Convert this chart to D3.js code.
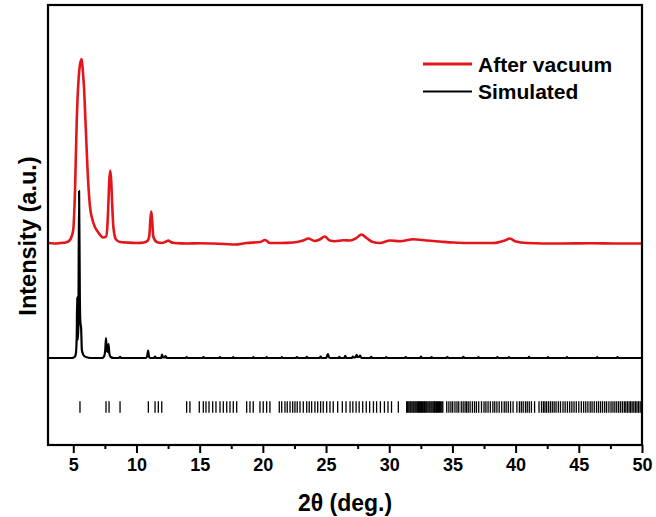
<!DOCTYPE html>
<html>
<head>
<meta charset="utf-8">
<script src="https://cdn.jsdelivr.net/npm/d3@7/dist/d3.min.js"></script>
<style>
  html, body { margin: 0; padding: 0; background: #fff; }
  svg { display: block; }
  text { font-family: "Liberation Sans", Arial, sans-serif; font-weight: bold; fill: #000; }
</style>
</head>
<body>
<svg id="chart" width="656" height="517"></svg>
<script>
// Measured pattern after vacuum: [2θ, intensity (a.u.)]
const afterVacuum = [
  [3.0,0.5],[3.5,0],[4.0,0.5],[4.4,1],[4.7,3],[4.87,7],[5.0,14],[5.14,54],[5.27,121],[5.4,160],
  [5.52,178],[5.66,184.5],[5.76,172],[5.85,156],[5.98,118],[6.14,71],[6.32,37],[6.58,21],[6.98,11],
  [7.37,6],[7.6,7],[7.7,18],[7.77,37],[7.85,63],[7.93,73],[8.0,63],[8.06,45],[8.17,17],[8.38,4],
  [8.7,1.5],[9.2,1],[10.0,0.5],[10.6,1],[10.9,3],[11.02,8],[11.1,24],[11.17,32],[11.25,22],[11.33,7],
  [11.6,1.5],[12.0,0.5],[12.35,2],[12.52,3],[12.7,1.5],[13.0,0.5],[14.0,0],[15.0,0.3],[16.0,0],
  [17.0,-0.5],[17.8,-1],[18.7,0.5],[19.8,1.5],[20.17,3.5],[20.56,0.5],[21.35,0.5],[22.4,1],[23.2,3],
  [23.6,5],[24.1,2.5],[24.5,4],[24.9,7],[25.3,3],[25.7,2.3],[26.36,3.2],[26.9,3],[27.4,5.5],[27.8,9],
  [28.2,5.5],[28.7,1.5],[29.26,0.5],[30.06,3],[30.85,2.3],[31.9,4.3],[32.96,3],[34.0,2],[35.07,1],
  [36.1,0.5],[38.2,0.5],[39.15,3],[39.55,5],[39.95,2.3],[40.9,0.5],[43.5,0],[46.0,0.3],[48.0,0],[50.0,0]
];

// Simulated pattern: [2θ, intensity (a.u.)]
const simulated = [
  [3.0,0],[4.9,0],[5.1,1],[5.2,4],[5.27,20],[5.31,61],[5.35,18],[5.40,30],[5.46,167],[5.52,60],
  [5.56,36],[5.62,30],[5.68,8],[5.8,3],[6.0,1],[6.4,0],
  [7.3,0],[7.45,2],[7.53,8],[7.59,20],[7.65,8],[7.72,6],[7.79,14],[7.85,5],[7.95,1],[8.2,0],
  [8.62,0],[8.7,1.2],[8.78,0],
  [10.75,0],[10.85,2],[10.92,7.5],[11.0,1],[11.1,0],[11.4,0],[11.47,1.5],[11.55,0],[11.95,0],
  [12.02,3.5],[12.1,0.5],[12.22,0.5],[12.3,2],[12.4,0],
  [13.9,0],[13.97,1],[14.05,0],[15.2,0],[15.3,0.8],[15.4,0],[16.55,0],[16.6,1],[16.68,0],
  [17.6,0],[17.66,0.8],[17.72,0],[19.2,0],[19.25,1],[19.32,0],[20.25,0],[20.3,1],[20.38,0],
  [21.45,0],[21.5,0.8],[21.58,0],[22.6,0],[22.7,1],[22.8,0],[23.4,0],[23.47,1.2],[23.55,0],
  [24.5,0],[24.57,1.5],[24.65,0],
  [25.0,0],[25.1,2.5],[25.15,4],[25.22,1],[25.35,0],[26.0,0],[26.05,1.2],[26.12,0],[26.45,0],
  [26.52,2.2],[26.6,0],[27.05,0],[27.12,1.5],[27.2,0.5],[27.35,1],[27.42,3.2],[27.5,1],[27.62,1],
  [27.7,2.5],[27.8,0],[28.5,0],[28.57,1.2],[28.65,0],[29.7,0],[29.76,1],[29.83,0],[31.2,0],
  [31.3,1],[31.4,0],[32.45,0],[32.5,1.5],[32.58,0],[33.3,0],[33.35,1],[33.42,0],[34.5,0],
  [34.6,1],[34.7,0],[35.8,0],[35.86,1.2],[35.94,0],[37.0,0],[37.06,0.8],[37.12,0],[38.5,0],
  [38.56,1],[38.62,0],[39.4,0],[39.47,1],[39.55,0],[41.0,0],[41.06,1.2],[41.12,0],[42.5,0],
  [42.56,0.8],[42.62,0],[44.0,0],[44.06,1],[44.12,0],[46.4,0],[46.46,0.8],[46.52,0],[48.0,0],
  [48.06,1],[48.12,0],[50.0,0]
];

// Calculated reflection positions (2θ)
const reflections = [
  5.53, 7.59, 7.83, 8.70, 10.94, 11.47, 11.73, 12.00, 13.97, 14.23, 14.97, 15.29, 15.50, 15.74,
  16.03, 16.29, 16.61, 16.87, 17.14, 17.40, 17.66, 17.93, 18.72, 18.98, 19.24, 19.77, 20.03, 20.30,
  20.56, 21.30, 21.49, 21.75, 21.93, 22.15, 22.36, 22.54, 22.72, 22.94, 23.20, 23.47, 23.67, 23.86,
  24.12, 24.34, 24.57, 24.78, 25.05, 25.31, 25.57, 25.92, 26.29, 26.58, 26.90, 27.12, 27.38, 27.62,
  27.90, 28.18, 28.45, 28.75, 29.00, 29.30, 29.62, 29.90, 30.18, 30.72,
  31.38, 31.46, 31.55, 31.64, 31.71, 31.80, 31.89, 31.96, 32.05, 32.13, 32.22, 32.31, 32.38, 32.47,
  32.55, 32.64, 32.73, 32.80, 32.89, 32.97, 33.06, 33.15, 33.22, 33.31, 33.39, 33.48, 33.57, 33.64,
  33.73, 33.81, 33.90, 33.98, 34.07, 34.16, 34.24,
  34.55, 34.72, 34.88, 35.02, 35.20, 35.36, 35.50, 35.70, 35.85, 36.00, 36.12, 36.25, 36.40, 36.58,
  36.75, 36.90, 37.08, 37.30, 37.50, 37.65, 37.82, 38.00, 38.20, 38.35, 38.52, 38.70, 38.90, 39.10,
  39.25, 39.42, 39.60, 39.80, 40.10, 40.30, 40.45, 40.60, 40.78, 40.92, 41.08, 41.25, 41.50, 41.85,
  42.05, 42.20, 42.32, 42.45, 42.60, 42.75, 42.90, 43.05, 43.20, 43.38, 43.55, 43.75, 43.92, 44.10,
  44.28, 44.45, 44.62, 44.80, 45.00, 45.20, 45.38, 45.55, 45.72, 45.90, 46.05, 46.22, 46.40, 46.56,
  46.72, 46.88, 47.05, 47.20, 47.38, 47.55, 47.70, 47.85, 48.00, 48.15, 48.30, 48.45, 48.60, 48.72,
  48.85, 48.98, 49.10, 49.22, 49.35, 49.48, 49.60, 49.72, 49.85, 49.95
];

const xMajorTicks = [5, 10, 15, 20, 25, 30, 35, 40, 45, 50];
const xMinorTicks = [7.5, 12.5, 17.5, 22.5, 27.5, 32.5, 37.5, 42.5, 47.5];

const seriesNames = ["After vacuum", "Simulated"];
const seriesColors = ["#e3161c", "#000000"];

// Layout
const margin = { left: 48, top: 5, right: 14, bottom: 72 };
const W = 656, H = 517;
const plotW = W - margin.left - margin.right;
const plotH = H - margin.top - margin.bottom;

// Vertical stacking offsets for the two patterns (intensity units)
const offsetVacuum = 201.5;
const offsetSim = 87;
const offsetRefl = 38;   // reflection marker row (centre)
const reflHalf = 5.8;

const svg = d3.select("#chart");
const g = svg.append("g").attr("transform", `translate(${margin.left},${margin.top})`);

const x = d3.scaleLinear().domain([3, 50]).range([0, plotW]);
const y = d3.scaleLinear().domain([0, 440]).range([plotH, 0]);

g.append("clipPath").attr("id", "clip")
  .append("rect").attr("width", plotW).attr("height", plotH);

const plot = g.append("g").attr("clip-path", "url(#clip)");

const line = (offset) => d3.line()
  .x(d => x(d[0]))
  .y(d => y(d[1] + offset))
  .curve(d3.curveMonotoneX);

plot.append("path")
  .datum(simulated)
  .attr("fill", "none")
  .attr("stroke", seriesColors[1])
  .attr("stroke-width", 2.2)
  .attr("stroke-linejoin", "round")
  .attr("d", line(offsetSim));

plot.append("path")
  .datum(afterVacuum)
  .attr("fill", "none")
  .attr("stroke", seriesColors[0])
  .attr("stroke-width", 2.6)
  .attr("stroke-linejoin", "round")
  .attr("d", line(offsetVacuum));

// Reflection markers
plot.append("g").selectAll("line")
  .data(reflections)
  .join("line")
  .attr("x1", d => x(d)).attr("x2", d => x(d))
  .attr("y1", y(offsetRefl + reflHalf)).attr("y2", y(offsetRefl - reflHalf))
  .attr("stroke", "#000")
  .attr("stroke-width", 1.3);

// Bottom axis: major and minor ticks
const xAxis = d3.axisBottom(x)
  .tickValues(xMajorTicks)
  .tickSize(8)
  .tickPadding(5)
  .tickFormat(d3.format("d"));
const axG = g.append("g").attr("transform", `translate(0,${plotH})`).call(xAxis);
axG.select(".domain").remove();
axG.selectAll(".tick line").attr("stroke", "#000").attr("stroke-width", 2);
axG.selectAll(".tick text")
  .style("font-size", "18px")
  .style("font-family", "'Liberation Sans', Arial, sans-serif")
  .style("font-weight", "bold")
  .attr("fill", "#000");

const minorAx = d3.axisBottom(x).tickValues(xMinorTicks).tickSize(4).tickFormat("");
const mG = g.append("g").attr("transform", `translate(0,${plotH})`).call(minorAx);
mG.select(".domain").remove();
mG.selectAll(".tick line").attr("stroke", "#000").attr("stroke-width", 2);

// Frame
g.append("rect")
  .attr("x", 0).attr("y", 0)
  .attr("width", plotW).attr("height", plotH)
  .attr("fill", "none")
  .attr("stroke", "#000")
  .attr("stroke-width", 2.2);

// Axis titles
svg.append("text")
  .attr("x", margin.left + plotW / 2)
  .attr("y", 511)
  .attr("text-anchor", "middle")
  .style("font-size", "23px")
  .text("2θ (deg.)");

svg.append("text")
  .attr("transform", `translate(36,236) rotate(-90)`)
  .attr("text-anchor", "middle")
  .style("font-size", "23.5px")
  .text("Intensity (a.u.)");

// Legend
const legend = svg.append("g").attr("transform", "translate(423,64)");
seriesNames.forEach((name, i) => {
  const row = legend.append("g").attr("transform", `translate(0,${i * 27.5})`);
  row.append("line")
    .attr("x1", 0).attr("x2", 49)
    .attr("y1", 0).attr("y2", 0)
    .attr("stroke", seriesColors[i])
    .attr("stroke-width", i === 0 ? 3 : 2.2);
  row.append("text")
    .attr("x", 55).attr("y", 7.5)
    .style("font-size", "21px")
    .text(name);
});
</script>
</body>
</html>
